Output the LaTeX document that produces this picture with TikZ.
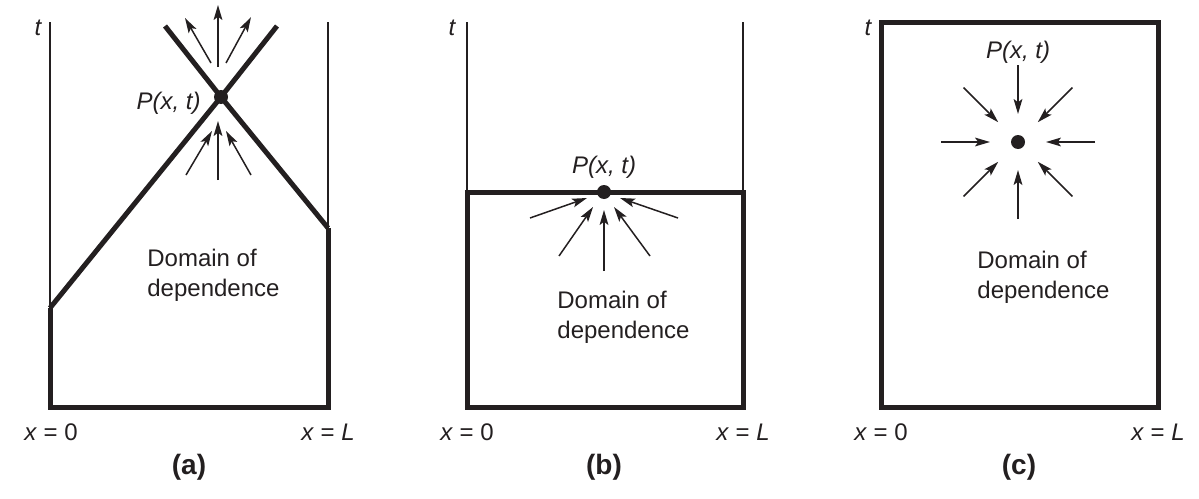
\documentclass[tikz,border=0pt]{standalone}
\usepackage{fontspec}
\setmainfont{Liberation Sans}
\usetikzlibrary{arrows.meta,calc}
\definecolor{ink}{HTML}{231F20}

\begin{document}
\begin{tikzpicture}[x=0.5pt,y=-0.5pt,wall/.style={line width=1.1pt,draw=ink},bound/.style={line width=2.5pt,draw=ink,line join=miter},arr/.style={-{Stealth[length=7.5pt,width=4.4pt,inset=1.6pt]},line width=0.75pt,draw=ink},dot/.style={circle,fill=ink,inner sep=0pt,minimum size=7pt},lbl/.style={font=\fontsize{12}{15}\selectfont,inner sep=0pt,text=ink},panelname/.style={font=\fontsize{14}{16}\selectfont\bfseries,inner sep=0pt,text=ink}]
\useasboundingbox (0,0) rectangle (1199,498);
% (a) wave: characteristics through P
\coordinate (aL) at (50,308);\coordinate (aR) at (328,228);
\node[dot] (Pa) at (221,97) {};
\draw[wall] (50,22)--(aL);\draw[wall] (328,22)--(aR);
\draw[bound] (aL)--(50,407)--(328,407)--(aR);
\draw[bound] (aL)--(Pa.center)--(277,26);\draw[bound] (aR)--(Pa.center)--(165,26);
\draw[arr] (211,63)--(185,18);\draw[arr] (218,67)--(218,5);\draw[arr] (226,63)--(251,17);
\draw[arr] (186,175)--(212,131);\draw[arr] (218,180)--(218,121);\draw[arr] (251,175)--(226,131);
\node[lbl,anchor=east] (Pla) at (201,103) {\itshape P(x, t)};
\node[lbl,anchor=west,align=left] (doma) at (147,275) {Domain of\\dependence};
\node[lbl] (ta) at (38,28) {\itshape t};
\node[lbl] (xa0) at (51,432) {\textit{x} = 0};\node[lbl] (xaL) at (328,432) {\textit{x} = \textit{L}};
\node[panelname] (capa) at (189,467) {(a)};
% (b) diffusion: P on the time line
\node[dot] (Pb) at (604,192) {};
\draw[wall] (467,22)--(467,192);\draw[wall] (743,22)--(743,192);
\draw[bound] (467,192) rectangle (743,407);
\draw[arr] (530,218)--(587,198);\draw[arr] (559,256)--(593,207);\draw[arr] (604,271)--(604,210);\draw[arr] (650,256)--(614,207);\draw[arr] (678,218)--(620,198);
\node[lbl] (Plb) at (604,167) {\itshape P(x, t)};
\node[lbl,anchor=west,align=left] (domb) at (557,317) {Domain of\\dependence};
\node[lbl] (tb) at (452,28) {\itshape t};
\node[lbl] (xb0) at (467,432) {\textit{x} = 0};\node[lbl] (xbL) at (743,432) {\textit{x} = \textit{L}};
\node[panelname] (capb) at (604,467) {(b)};
% (c) elliptic: whole domain
\node[dot] (Pc) at (1018,142) {};
\draw[bound] (881,22) rectangle (1158,407);
\foreach \a in {0,45,...,315}{\draw[arr] ($(Pc)+(\a:77)$)--($(Pc)+(\a:28)$);}
\node[lbl] (Plc) at (1018,52) {\itshape P(x, t)};
\node[lbl,anchor=west,align=left] (domc) at (977,277) {Domain of\\dependence};
\node[lbl] (tc) at (868,28) {\itshape t};
\node[lbl] (xc0) at (881,432) {\textit{x} = 0};\node[lbl] (xcL) at (1158,432) {\textit{x} = \textit{L}};
\node[panelname] (capc) at (1019,467) {(c)};
\end{tikzpicture}
\end{document}
